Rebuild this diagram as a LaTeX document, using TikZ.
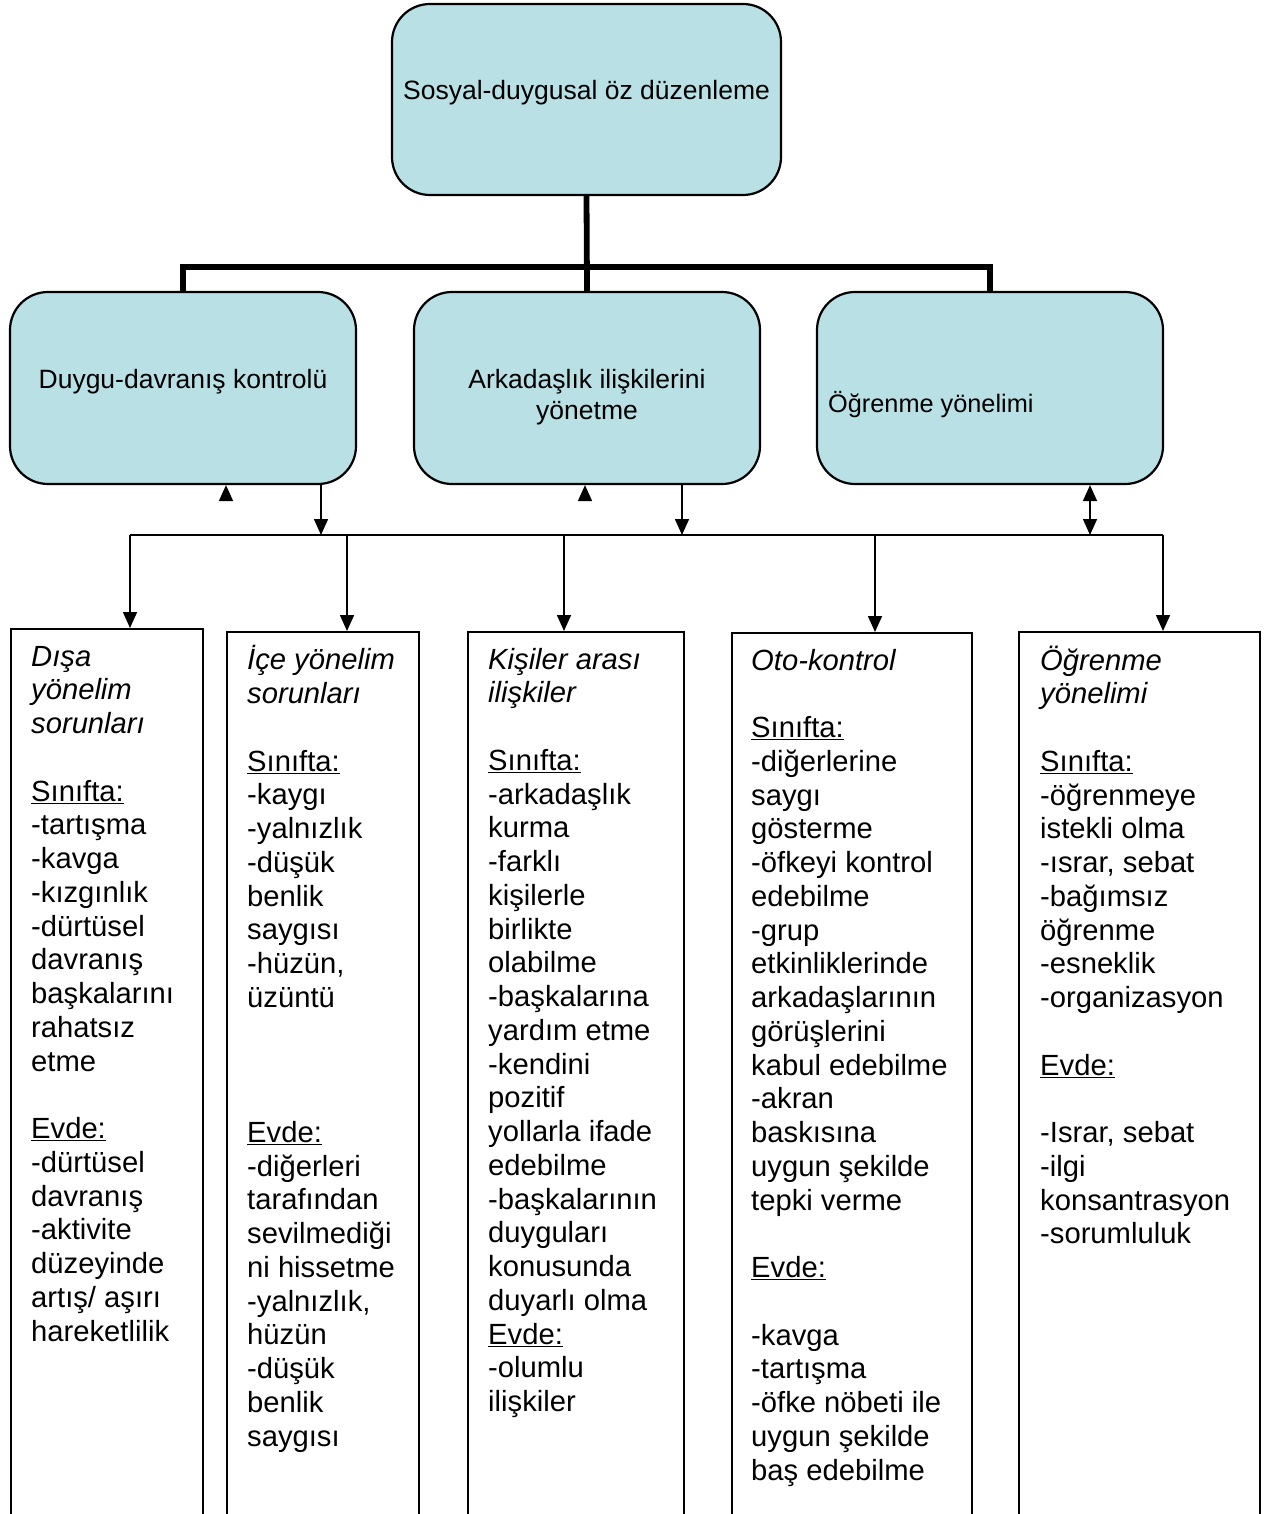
\documentclass[tikz,border=0pt]{standalone}
\usepackage{fontspec}
\setmainfont{Liberation Sans}
\usetikzlibrary{arrows.meta}
\definecolor{boxblue}{RGB}{185,224,228}

\begin{document}
\begin{tikzpicture}[x=1pt,y=-1pt,
        headbox/.style={draw=black,line width=2.2pt,fill=boxblue,rounded corners=38pt,inner sep=0pt},
        listbox/.style={draw=black,line width=2pt,anchor=north west,inner sep=0pt,minimum height=920pt},
        headtext/.style={inner sep=0pt,font=\fontsize{26.5}{30.5}\selectfont},
        listtext/.style={anchor=north west,inner sep=0pt,align=left,font=\fontsize{29.2}{33.75}\selectfont},
        arr/.style={line width=1.6pt,-{Triangle[length=16pt,width=14pt]}},
        arrboth/.style={line width=1.6pt,{Triangle[length=16pt,width=14pt]}-{Triangle[length=16pt,width=14pt]}},
        trunk/.style={line width=5.8pt}]
    \useasboundingbox (0,0) rectangle (1263,1514);
    \clip (0,0) rectangle (1263,1514);

    % top
    \node[headbox,minimum width=389pt,minimum height=191pt] (top) at (586.5,99.5) {};
    \node[headtext,anchor=base] (toptext) at (top.center) {Sosyal-duygusal öz düzenleme};

    % second row
    \node[headbox,minimum width=346pt,minimum height=192pt] (duygu) at (183,388) {};
    \node[headbox,minimum width=346pt,minimum height=192pt] (arkadas) at (587,388) {};
    \node[headbox,minimum width=346pt,minimum height=192pt] (ogrenme) at (990,388) {};
    \node[headtext,anchor=base] (duygutext) at (duygu.center) {Duygu-davranış kontrolü};
    \node[headtext,anchor=north,align=center] (arkadastext) at (587,367)
        {\strut Arkadaşlık ilişkilerini\\yönetme};
    \node[headtext,anchor=base west,font=\fontsize{25.3}{30}\selectfont] (ogrenmetext) at (828,412)
        {Öğrenme yönelimi};

    \coordinate (branch) at (586,267);
    \draw[trunk] (top.south) -- (arkadas.north);
    \draw[trunk] (duygu.north) |- (branch) -| (ogrenme.north);

    % bus
    \coordinate (u1) at (226,500);
    \coordinate (u2) at (585,500);
    \coordinate (j1) at (321,535);
    \coordinate (j2) at (682,535);
    \coordinate (j3) at (1090,535);
    \coordinate (k1) at (130,535);
    \coordinate (k2) at (347,535);
    \coordinate (k3) at (564,535);
    \coordinate (k4) at (875,535);
    \coordinate (k5) at (1163,535);

    \draw[arr] (u1) -- (duygu.south -| u1);
    \draw[arr] (u2) -- (arkadas.south -| u2);
    \draw[arr] (duygu.south -| j1) -- (j1);
    \draw[arr] (arkadas.south -| j2) -- (j2);
    \draw[arrboth] (ogrenme.south -| j3) -- (j3);
    \draw[line width=1.6pt] (k1) -- (k5);

    % lists
    \node[listbox,minimum width=192pt] (disa) at (10,628) {};
    \node[listbox,minimum width=192pt] (ice) at (226,631) {};
    \node[listbox,minimum width=216pt] (kisi) at (467,631) {};
    \node[listbox,minimum width=240pt] (oto) at (731,632) {};
    \node[listbox,minimum width=241pt] (ogr) at (1018,631) {};

    \draw[arr] (k1) -- (k1 |- disa.north);
    \draw[arr] (k2) -- (k2 |- ice.north);
    \draw[arr] (k3) -- (k3 |- kisi.north);
    \draw[arr] (k4) -- (k4 |- oto.north);
    \draw[arr] (k5) -- (k5 |- ogr.north);

    \node[listtext] (disatext) at ([xshift=21pt,yshift=-14.4pt]disa.north west)
        {\strut\textit{Dışa}\\
         \textit{yönelim}\\
         \textit{sorunları}\\
         \\
         \underline{Sınıfta:}\\
         -tartışma\\
         -kavga\\
         -kızgınlık\\
         -dürtüsel\\
         davranış\\
         başkalarını\\
         rahatsız\\
         etme\\
         \\
         \underline{Evde:}\\
         -dürtüsel\\
         davranış\\
         -aktivite\\
         düzeyinde\\
         artış/ aşırı\\
         hareketlilik};
    \node[listtext] (icetext) at ([xshift=21pt,yshift=-14.4pt]ice.north west)
        {\strut\textit{İçe yönelim}\\
         \textit{sorunları}\\
         \\
         \underline{Sınıfta:}\\
         -kaygı\\
         -yalnızlık\\
         -düşük\\
         benlik\\
         saygısı\\
         -hüzün,\\
         üzüntü\\
         \\
         \\
         \\
         \underline{Evde:}\\
         -diğerleri\\
         tarafından\\
         sevilmediği\\
         ni hissetme\\
         -yalnızlık,\\
         hüzün\\
         -düşük\\
         benlik\\
         saygısı};
    \node[listtext] (kisitext) at ([xshift=21pt,yshift=-14.4pt]kisi.north west)
        {\strut\textit{Kişiler arası}\\
         \textit{ilişkiler}\\
         \\
         \underline{Sınıfta:}\\
         -arkadaşlık\\
         kurma\\
         -farklı\\
         kişilerle\\
         birlikte\\
         olabilme\\
         -başkalarına\\
         yardım etme\\
         -kendini\\
         pozitif\\
         yollarla ifade\\
         edebilme\\
         -başkalarının\\
         duyguları\\
         konusunda\\
         duyarlı olma\\
         \underline{Evde:}\\
         -olumlu\\
         ilişkiler};
    \node[listtext] (ototext) at ([xshift=20pt,yshift=-14.4pt]oto.north west)
        {\strut\textit{Oto-kontrol}\\
         \\
         \underline{Sınıfta:}\\
         -diğerlerine\\
         saygı\\
         gösterme\\
         -öfkeyi kontrol\\
         edebilme\\
         -grup\\
         etkinliklerinde\\
         arkadaşlarının\\
         görüşlerini\\
         kabul edebilme\\
         -akran\\
         baskısına\\
         uygun şekilde\\
         tepki verme\\
         \\
         \underline{Evde:}\\
         \\
         -kavga\\
         -tartışma\\
         -öfke nöbeti ile\\
         uygun şekilde\\
         baş edebilme};
    \node[listtext] (ogrtext) at ([xshift=22pt,yshift=-14.4pt]ogr.north west)
        {\strut\textit{Öğrenme}\\
         \textit{yönelimi}\\
         \\
         \underline{Sınıfta:}\\
         -öğrenmeye\\
         istekli olma\\
         -ısrar, sebat\\
         -bağımsız\\
         öğrenme\\
         -esneklik\\
         -organizasyon\\
         \\
         \underline{Evde:}\\
         \\
         -Israr, sebat\\
         -ilgi\\
         konsantrasyon\\
         -sorumluluk};
\end{tikzpicture}
\end{document}
